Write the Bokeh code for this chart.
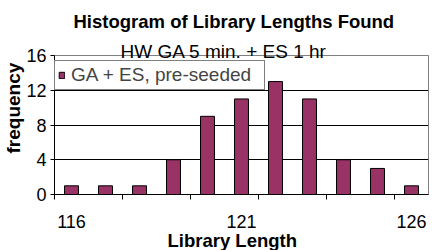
import math
from bokeh.plotting import figure
from bokeh.models import (Range1d, FixedTicker, Title, Legend, LegendItem, ColumnDataSource)
from bokeh.embed import file_html
from bokeh.resources import INLINE

# ---- data ----
lengths = [116, 117, 118, 119, 120, 121, 122, 123, 124, 125, 126]
frequency = [1, 1, 1, 4, 9, 11, 13, 11, 4, 3, 1]
x_tick_labels = [116, 121, 126]
y_ticks = [0, 4, 8, 12, 16]
series_name = "GA + ES, pre-seeded"
title_text = "Histogram of Library Lengths Found"
subtitle_text = "HW GA 5 min. + ES 1 hr"
x_label = "Library Length"
y_label = "frequency"

FONT = "Liberation Sans"
W, H = 437, 250

p = figure(width=W, height=H, output_backend="svg", toolbar_location=None,
           x_range=Range1d(115.5, 126.5), y_range=Range1d(0, 16),
           min_border_left=52, min_border_right=9, min_border_top=55, min_border_bottom=56)
p.background_fill_color = "white"
p.border_fill_color = "white"
p.outline_line_color = "#808080"
p.outline_line_width = 1

src = ColumnDataSource(dict(x=lengths, top=frequency))
r = p.vbar(x="x", top="top", width=0.41, source=src, fill_color="#993366", line_color="black", line_width=1)

# axes
p.xaxis.ticker = FixedTicker(ticks=x_tick_labels, minor_ticks=[115.5, 117.5, 119.5, 121.5, 123.5, 125.5])
p.xaxis.major_tick_out = 0
p.xaxis.major_tick_in = 0
p.xaxis.minor_tick_out = 5
p.xaxis.minor_tick_in = 0
p.xaxis.minor_tick_line_color = "black"
p.xaxis.axis_line_color = "black"
p.xaxis.major_label_standoff = 15
p.xaxis.major_label_text_font = FONT
p.xaxis.major_label_text_font_size = "18px"
p.xaxis.major_label_text_color = "black"

p.yaxis.ticker = FixedTicker(ticks=y_ticks)
p.yaxis.major_tick_out = 4
p.yaxis.major_tick_in = 0
p.yaxis.minor_tick_line_color = None
p.yaxis.major_tick_line_color = "black"
p.yaxis.axis_line_color = "black"
p.yaxis.major_label_standoff = 4
p.yaxis.major_label_text_font = FONT
p.yaxis.major_label_text_font_size = "18px"
p.yaxis.major_label_text_color = "black"

p.xgrid.visible = False
p.ygrid.ticker = FixedTicker(ticks=[4, 8, 12])
p.ygrid.grid_line_color = "black"
p.ygrid.grid_line_width = 1

# legend
legend = Legend(items=[LegendItem(label=series_name, renderers=[r])],
                location=(0, 104), padding=3, spacing=0, margin=0,
                glyph_width=7, glyph_height=8, label_standoff=6, label_width=190,
                label_text_font=FONT, label_text_font_size="19px",
                border_line_color="black", border_line_width=1,
                background_fill_color="white", background_fill_alpha=1)
p.add_layout(legend)

# titles (first added sits nearest the plot)
p.add_layout(Title(text=subtitle_text, align="left", offset=66, standoff=-12,
                   text_font=FONT, text_font_style="normal", text_font_size="19px",
                   text_color="black"), "above")
p.add_layout(Title(text=" ", align="left", offset=0, standoff=-8.6,
                   text_font=FONT, text_font_size="18px", text_color="white"), "above")
p.add_layout(Title(text=title_text, align="left", offset=19, standoff=0,
                   text_font=FONT, text_font_style="bold", text_font_size="18.5px",
                   text_color="black"), "above")
p.add_layout(Title(text=x_label, align="left", offset=113, standoff=-6,
                   text_font=FONT, text_font_style="bold", text_font_size="18.5px",
                   text_color="black"), "below")
p.add_layout(Title(text=y_label, align="left", offset=41, standoff=0,
                   text_font=FONT, text_font_style="bold", text_font_size="19px",
                   text_color="black"), "left")

open("out.html", "w").write(file_html(p, INLINE))
